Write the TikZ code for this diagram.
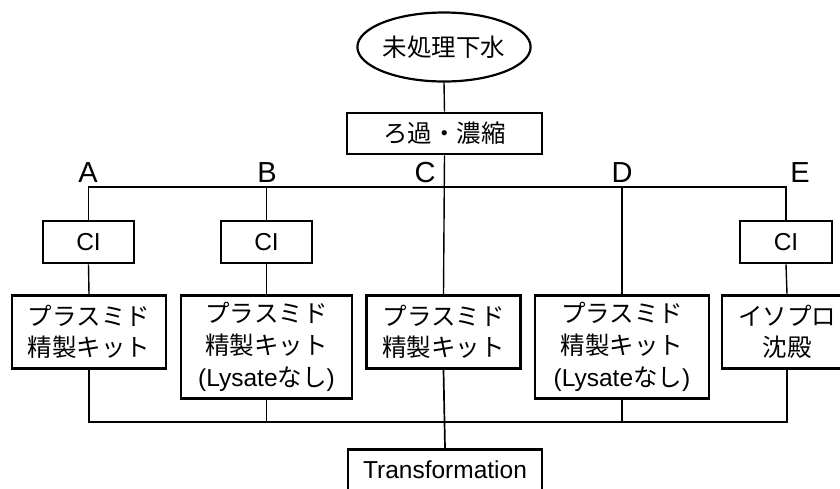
\documentclass[tikz,border=0pt]{standalone}
\usepackage{fontspec}
\setmainfont{Liberation Sans}
\newfontfamily\jp{Noto Sans CJK JP}
\usetikzlibrary{shapes.geometric,calc}
\begin{document}
\begin{tikzpicture}[x=1pt,y=-1pt,
  box/.style={draw,line width=2.8pt,rectangle,inner sep=0pt,align=center,
    font=\fontsize{24.5}{32}\selectfont},
  conn/.style={line width=1.4pt},
  lab/.style={font=\fontsize{29}{30}\selectfont,inner sep=0pt}]
\useasboundingbox (0,0) rectangle (840,488);
\clip (0,0) rectangle (840,488);
\fill[white] (0,0) rectangle (840,488);
% top
\node[draw,ellipse,line width=2.2pt,minimum width=162pt,minimum height=69pt,inner sep=0pt,
  font=\fontsize{24.5}{30}\selectfont\jp] (raw) at (444,47) {未処理下水};
\node[box,minimum width=195pt,minimum height=41pt,font=\fontsize{24.5}{30}\selectfont\jp] (filt) at (444.5,133.5) {ろ過・濃縮};
% labels
\node[lab] (lA) at (88,173) {A};
\node[lab] (lB) at (267,173) {B};
\node[lab] (lC) at (425,173) {C};
\node[lab] (lD) at (622,173) {D};
\node[lab] (lE) at (800,173) {E};
% CI boxes
\node[box,minimum width=91pt,minimum height=42pt] (ciA) at (88.5,242) {CI};
\node[box,minimum width=91pt,minimum height=42pt] (ciB) at (266.5,242) {CI};
\node[box,minimum width=92pt,minimum height=42pt] (ciE) at (786,242) {CI};
% plasmid boxes
\node[box,anchor=north,minimum width=154pt,minimum height=73pt] (pA) at (89,294)
  {{\jp プラスミド}\\[-1pt]{\jp 精製キット}};
\node[box,anchor=north,minimum width=171pt,minimum height=103pt] (pB) at (266.5,294)
  {{\jp プラスミド}\\{\jp 精製キット}\\(Lysate{\jp なし})};
\node[box,anchor=north,minimum width=154pt,minimum height=73pt] (pC) at (443.5,294)
  {{\jp プラスミド}\\[-1pt]{\jp 精製キット}};
\node[box,anchor=north,minimum width=174pt,minimum height=103pt] (pD) at (622,294)
  {{\jp プラスミド}\\{\jp 精製キット}\\(Lysate{\jp なし})};
\node[box,anchor=north,minimum width=130pt,minimum height=73pt] (pE) at (787,294)
  {{\jp イソプロ}\\[-1pt]{\jp 沈殿}};
% transformation
\node[box,anchor=north,minimum width=194pt,minimum height=46pt] (tr) at (445,448) {};
\node[font=\fontsize{24.5}{30}\selectfont,inner sep=0pt] (trt) at (445,470) {Transformation};
% junction coordinates
\coordinate (top) at (444,187);
\coordinate (bot) at (444,422);
% connectors
\draw[conn] (raw.south) -- (filt.north);
\draw[conn] (filt.south) -- (pC.north);
\draw[conn] (ciA.north) |- (top) -| (ciE.north);
\draw[conn] (ciB.north) -- (ciB.north |- top);
\draw[conn] (pD.north) -- (pD.north |- top);
\draw[conn] (ciA.south) -- (pA.north);
\draw[conn] (ciB.south) -- (pB.north);
\draw[conn] (ciE.south) -- (pE.north);
\draw[conn,line width=1.7pt] (pA.south) |- (bot) -| (pE.south);
\draw[conn] (pB.south) -- (pB.south |- bot);
\draw[conn] (pD.south) -- (pD.south |- bot);
\draw[conn,line width=1.7pt] (pC.south) -- (tr.north);
\end{tikzpicture}
\end{document}
